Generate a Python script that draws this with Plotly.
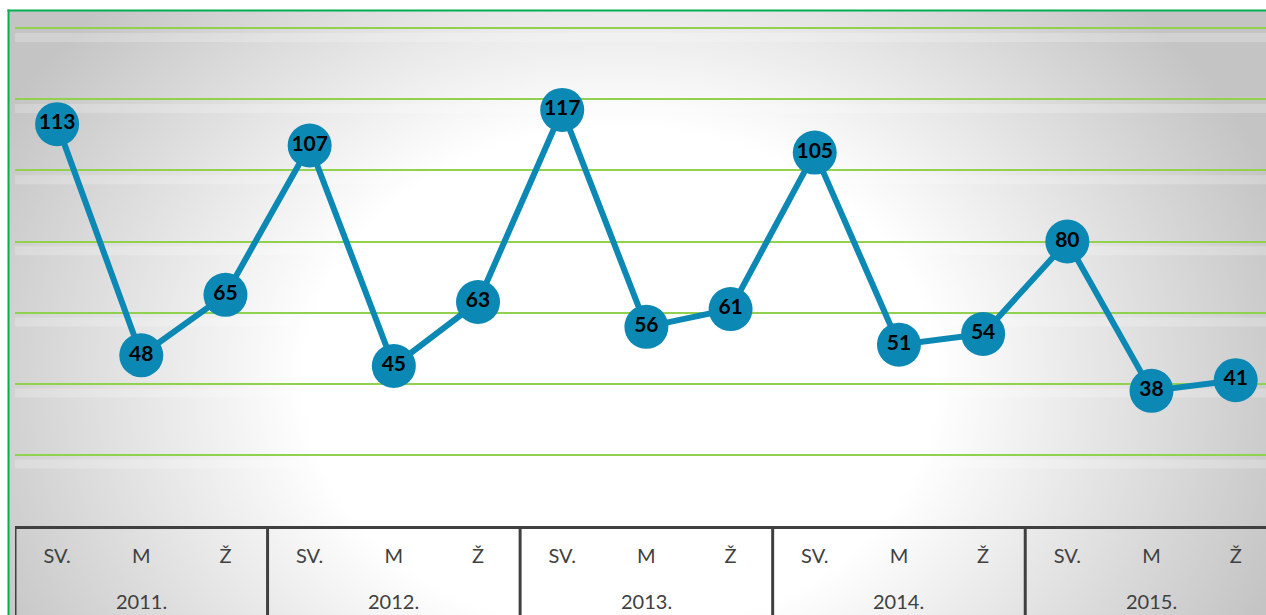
import base64
import plotly.graph_objects as go

years = ["2011.", "2012.", "2013.", "2014.", "2015."]
seasons = ["SV.", "M", "Ž"]
values = [113, 48, 65, 107, 45, 63, 117, 56, 61, 105, 51, 54, 80, 38, 41]
grid_vals = [20, 40, 60, 80, 100, 120, 140]

W, H = 1266, 615
ML, MR, MT, MB = 15, 0, 10, 89
PW, PH = W - ML - MR, H - MT - MB

n = len(values)
xs = list(range(n))
tick_text = [s for y in years for s in seasons]
year_pos = [i * len(seasons) + (len(seasons) - 1) / 2 for i in range(len(years))]
dividers = [i * len(seasons) - 0.5 for i in range(len(years))]

LINE_COLOR = "#0C88B4"
AXIS_COLOR = "#404040"

svg = f'''<svg xmlns="http://www.w3.org/2000/svg" width="{W}" height="{H}" viewBox="0 0 {W} {H}">
<defs><radialGradient id="g" gradientUnits="userSpaceOnUse" cx="0" cy="0" r="1" gradientTransform="translate(620,380) scale(700,560)">
<stop offset="0" stop-color="#ffffff"/><stop offset="0.45" stop-color="#ffffff"/><stop offset="1" stop-color="#c4c4c4"/></radialGradient></defs>
<rect x="0" y="0" width="{W}" height="{H}" fill="#ffffff"/>
<rect x="9" y="11" width="{W}" height="{H}" fill="url(#g)"/>
</svg>'''
src = "data:image/svg+xml;base64," + base64.b64encode(svg.encode()).decode()

fig = go.Figure()
fig.add_trace(go.Scatter(
    x=xs, y=values,
    mode="lines+markers+text",
    line=dict(color=LINE_COLOR, width=6),
    marker=dict(color=LINE_COLOR, size=44),
    text=[str(v) for v in values],
    textposition="middle center",
    textfont=dict(family="Lato", size=21, color="#000000", weight="bold"),
    hoverinfo="skip", cliponaxis=False,
))

shapes = []
for gv in grid_vals:
    shapes.append(dict(type="line", xref="paper", yref="y", x0=0, x1=1, y0=gv - 2.6, y1=gv - 2.6,
                       line=dict(color="rgba(255,255,255,0.22)", width=9), layer="below"))
for d in dividers:
    shapes.append(dict(type="line", xref="x", yref="paper", x0=d, x1=d, y0=0, y1=-(MB + 5) / PH,
                       line=dict(color=AXIS_COLOR, width=3)))
# green chart border
shapes.append(dict(type="line", xref="paper", yref="paper", x0=-6.5 / PW, x1=-6.5 / PW,
                   y0=-(MB + 5) / PH, y1=1 + 0.5 / PH, line=dict(color="#00B050", width=2)))
shapes.append(dict(type="line", xref="paper", yref="paper", x0=-7.5 / PW, x1=1.0,
                   y0=1 - 0.5 / PH, y1=1 - 0.5 / PH, line=dict(color="#00B050", width=2)))

annotations = [dict(x=xp, y=-(601 - (H - MB)) / PH, xref="x", yref="paper", text=yr,
                    showarrow=False, yanchor="middle", xanchor="center",
                    font=dict(family="Lato", size=20, color=AXIS_COLOR))
               for xp, yr in zip(year_pos, years)]

fig.update_layout(
    width=W, height=H,
    margin=dict(l=ML, r=MR, t=MT, b=MB, pad=0),
    paper_bgcolor="white", plot_bgcolor="rgba(0,0,0,0)",
    showlegend=False,
    images=[dict(source=src, xref="paper", yref="paper", x=-ML / PW, y=1 + MT / PH,
                 sizex=W / PW, sizey=H / PH, xanchor="left", yanchor="top",
                 sizing="stretch", layer="below")],
    shapes=shapes,
    annotations=annotations,
    font=dict(family="Lato", color=AXIS_COLOR, size=20),
)
fig.update_xaxes(
    range=[-0.5, 14.36], tickvals=xs, ticktext=tick_text,
    showline=True, linecolor=AXIS_COLOR, linewidth=3,
    showgrid=False, zeroline=False, ticks="", ticklabelstandoff=10,
    tickfont=dict(family="Lato", size=20, color=AXIS_COLOR),
)
fig.update_yaxes(
    range=[0, 145.1], tickvals=grid_vals, showticklabels=False,
    showgrid=True, gridcolor="#92D050", gridwidth=2, zeroline=False, showline=False,
)

fig.write_html("out.html", config={"displayModeBar": False},
               post_script="document.body.style.margin='0';document.body.style.overflow='hidden';")
